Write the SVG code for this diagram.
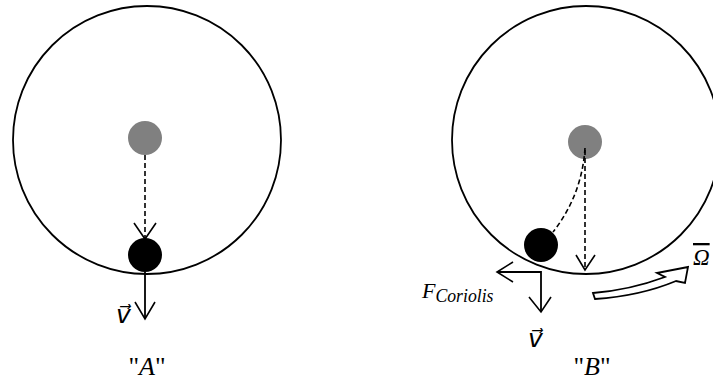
<svg xmlns="http://www.w3.org/2000/svg" width="713" height="381" viewBox="0 0 713 381">
<defs>
<style>
.ring{fill:none;stroke:#000;stroke-width:1.8}
.center{fill:#808080}
.ball{fill:#000}
.dash{fill:none;stroke:#000;stroke-width:1.6;stroke-dasharray:5,3}
.ln{fill:none;stroke:#000;stroke-width:1.8;stroke-linejoin:miter}
.head{fill:none;stroke:#000;stroke-width:1.6}
.omega{fill:#fff;stroke:#000;stroke-width:1.8;stroke-linejoin:miter}
.m{font-family:"Liberation Serif","DejaVu Serif",serif;font-style:italic;fill:#000}
.q{font-family:"Liberation Serif","DejaVu Serif",serif;font-style:normal}
.vec{font-family:"DejaVu Sans",sans-serif;font-style:italic;font-size:25px;fill:#000}
</style>
</defs>
<rect width="713" height="381" fill="#fff"/>
<g id="diagramA">
<circle class="ring" cx="147" cy="140" r="134"/>
<circle id="centerA" class="center" cx="145" cy="138" r="17"/>
<circle id="ballA" class="ball" cx="145" cy="255" r="17"/>
</g>
<g id="diagramB">
<circle class="ring" cx="586" cy="140" r="134"/>
<circle id="centerB" class="center" cx="585" cy="142" r="17"/>
<circle id="ballB" class="ball" cx="541" cy="245" r="17"/>
</g>
<g id="connectors">
<path class="dash" d="M145,155 V238"/>
<path class="head" d="M134,223 L145,239 L156,223"/>
<path class="ln" d="M145,272 V318"/>
<path class="head" d="M135,302 L145,319 L155,302"/>
<path class="dash" d="M585,148 Q582,195 553,232"/>
<path class="dash" d="M585,150 V268"/>
<path class="head" d="M576,255 L585,270 L595,255"/>
<path class="ln" d="M498,272 H541 V311"/>
<path class="head" d="M513,262 L497,272 L513,282"/>
<path class="head" d="M529,297 L541,312 L551,297"/>
<path class="omega" d="M593,293 Q630,290 665,277 L657,273 L688,267 L685,283 L676,281 Q640,296 595,299 Z"/>
</g>
<g id="labels">
<text class="vec" x="116" y="323">v&#x20D7;</text>
<text class="m" x="147" y="375" font-size="26" text-anchor="middle"><tspan class="q">"</tspan>A<tspan class="q">"</tspan></text>
<text class="m" x="422" y="298" font-size="22">F<tspan font-size="18" dy="4" textLength="58" lengthAdjust="spacingAndGlyphs">Coriolis</tspan></text>
<text class="vec" x="528" y="347">v&#x20D7;</text>
<text class="m" x="592" y="375" font-size="26" text-anchor="middle"><tspan class="q">"</tspan>B<tspan class="q">"</tspan></text>
<text class="m" x="693" y="265" font-size="23" text-decoration="overline">Ω</text>
</g>
</svg>
